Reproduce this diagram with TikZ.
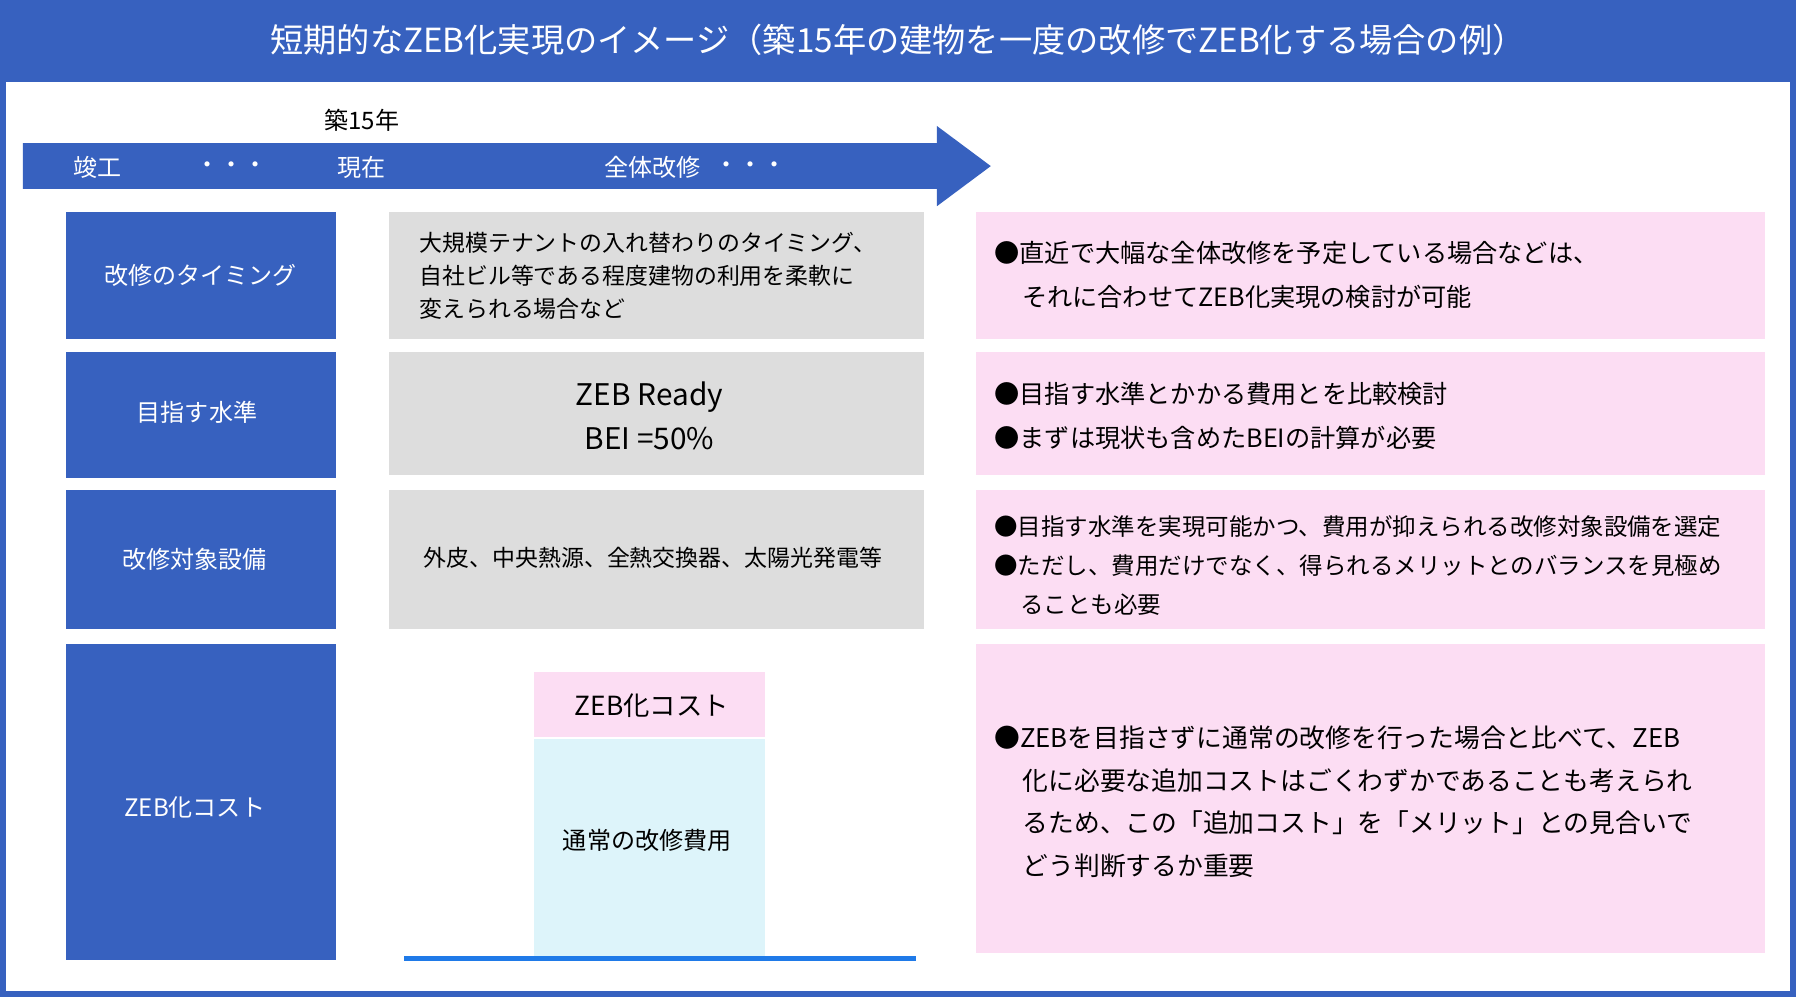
\documentclass[tikz,border=0pt]{standalone}
\usepackage{fontspec}
\setmainfont{Noto Sans CJK JP}
\begin{document}
\begin{tikzpicture}[x=1pt,y=-1pt,
  every node/.style={inner sep=0pt},
  tx/.style={font=\fontsize{21}{31}\selectfont},
  bluebox/.style={fill=mblue,draw=none},
  graybox/.style={fill=mgray,draw=none},
  pinkbox/.style={fill=mpink,draw=none}]
\definecolor{mblue}{HTML}{3761BF}
\definecolor{mgray}{HTML}{DDDDDD}
\definecolor{mpink}{HTML}{FCDDF3}
\definecolor{mlblue}{HTML}{DDF4FA}
\definecolor{mline}{HTML}{1F7AE8}
\useasboundingbox (0,0) rectangle (1568,870);
\fill[mblue] (0,0) rectangle (1568,870);
\fill[white] (5,72) rectangle (1563,865);
\node[white,font=\fontsize{29}{34}\selectfont] (title) at (784,35) {短期的なZEB化実現のイメージ（築15年の建物を一度の改修でZEB化する場合の例）};
% arrow
\fill[mblue] (20,125) -- (818,125) -- (818,110) -- (865,145) -- (818,180) -- (818,165) -- (20,165) -- cycle;
\node[tx] (age) at (316,105) {築15年};
\node[tx,white] (a1) at (85,146) {竣工};
\node[tx,white] (a2) at (202,146) {・・・};
\node[tx,white] (a3) at (316,146) {現在};
\node[tx,white] (a4) at (570,146) {全体改修};
\node[tx,white] (a5) at (655,146) {・・・};
% left boxes
\fill[bluebox] (58,185) rectangle (293,296);
\fill[bluebox] (58,307) rectangle (293,417);
\fill[bluebox] (58,428) rectangle (293,549);
\fill[bluebox] (58,562) rectangle (293,838);
\node[tx,white] (l1) at (175,240) {改修のタイミング};
\node[tx,white] (l2) at (172,360) {目指す水準};
\node[tx,white] (l3) at (170,488) {改修対象設備};
\node[tx,white] (l4) at (170,705) {ZEB化コスト};
% gray boxes
\fill[graybox] (340,185) rectangle (807,296);
\fill[graybox] (340,307) rectangle (807,415);
\fill[graybox] (340,428) rectangle (807,549);
\node[tx,align=left,anchor=west,font=\fontsize{20}{29}\selectfont] (g1) at (366,241) {大規模テナントの入れ替わりのタイミング、\\自社ビル等である程度建物の利用を柔軟に\\変えられる場合など};
\node[align=center,font=\fontsize{26}{38}\selectfont] (g2) at (567,363) {ZEB Ready\\BEI =50\%};
\node[tx,font=\fontsize{20}{29}\selectfont] (g3) at (570,487) {外皮、中央熱源、全熱交換器、太陽光発電等};
% pink boxes
\fill[pinkbox] (852,185) rectangle (1541,296);
\fill[pinkbox] (852,307) rectangle (1541,415);
\fill[pinkbox] (852,428) rectangle (1541,549);
\fill[pinkbox] (852,562) rectangle (1541,832);
\node[tx,align=left,anchor=west,font=\fontsize{22}{38}\selectfont] (p1) at (868,240) {●直近で大幅な全体改修を予定している場合などは、\\\hspace*{1.1em}それに合わせてZEB化実現の検討が可能};
\node[tx,align=left,anchor=west,font=\fontsize{22}{38}\selectfont] (p2) at (868,363) {●目指す水準とかかる費用とを比較検討\\●まずは現状も含めたBEIの計算が必要};
\node[tx,align=left,anchor=west,font=\fontsize{20.5}{34}\selectfont] (p3) at (868,494) {●目指す水準を実現可能かつ、費用が抑えられる改修対象設備を選定\\●ただし、費用だけでなく、得られるメリットとのバランスを見極め\\\hspace*{1.1em}ることも必要};
\node[tx,align=left,anchor=west,font=\fontsize{22.5}{37}\selectfont] (p4) at (868,700) {●ZEBを目指さずに通常の改修を行った場合と比べて、ZEB\\\hspace*{1.1em}化に必要な追加コストはごくわずかであることも考えられ\\\hspace*{1.1em}るため、この「追加コスト」を「メリット」との見合いで\\\hspace*{1.1em}どう判断するか重要};
% chart
\fill[mpink] (466,587) rectangle (668,643);
\fill[mlblue] (466,645) rectangle (668,835);
\node[tx,font=\fontsize{23}{30}\selectfont] (c1) at (569,616) {ZEB化コスト};
\node[tx] (c2) at (565,734) {通常の改修費用};
\coordinate (b1) at (353,837);
\coordinate (b2) at (800,837);
\draw[mline,line width=4] (b1) -- (b2);
\end{tikzpicture}
\end{document}
